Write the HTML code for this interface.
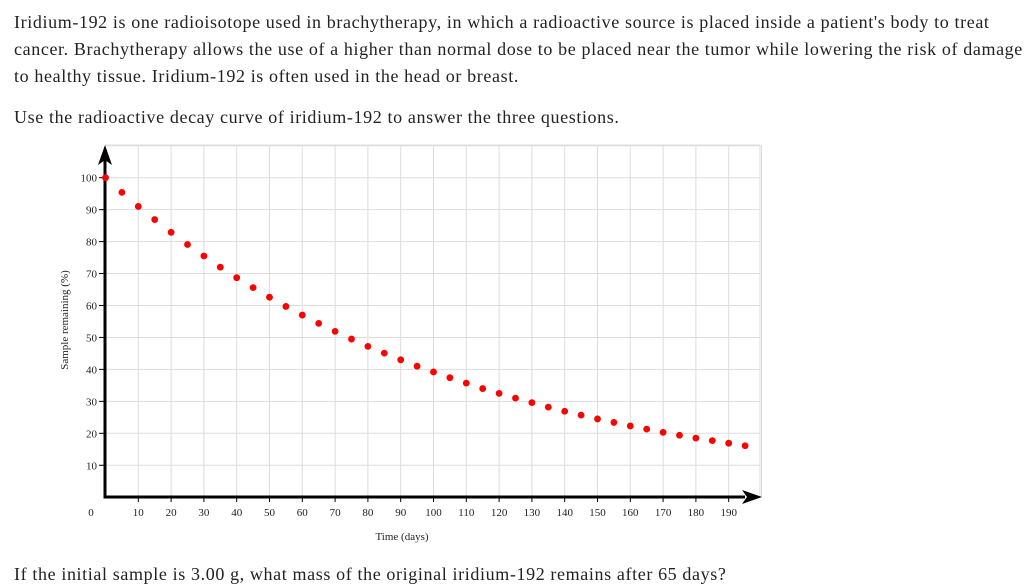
<!DOCTYPE html>
<html><head><meta charset="utf-8"><style>
body{margin:0;background:#fff;width:1024px;height:585px;overflow:hidden;font-family:"Liberation Serif",serif;color:#222}
.p{position:absolute;left:14px;font-size:18px;letter-spacing:0.62px;line-height:27px;margin:0;white-space:nowrap}
</style></head><body>
<p class="p" style="top:9px">Iridium-192 is one radioisotope used in brachytherapy, in which a radioactive source is placed inside a patient's body to treat<br>cancer. Brachytherapy allows the use of a higher than normal dose to be placed near the tumor while lowering the risk of damage<br>to healthy tissue. Iridium-192 is often used in the head or breast.</p>
<p class="p" style="top:104px">Use the radioactive decay curve of iridium-192 to answer the three questions.</p>
<svg id="chart" style="position:absolute;left:0;top:0" width="1024" height="585"></svg>
<p class="p" style="top:561px">If the initial sample is 3.00 g, what mass of the original iridium-192 remains after 65 days?</p>
<script>
const days=[0,5,10,15,20,25,30,35,40,45,50,55,60,65,70,75,80,85,90,95,100,105,110,115,120,125,130,135,140,145,150,155,160,165,170,175,180,185,190,195];
const remaining=[100,95.4,91,86.9,82.9,79.1,75.5,72,68.7,65.6,62.6,59.7,57,54.4,51.9,49.5,47.2,45.1,43,41,39.2,37.4,35.7,34,32.5,31,29.6,28.2,26.9,25.7,24.5,23.4,22.3,21.3,20.3,19.4,18.5,17.7,16.9,16.1];
const xTicks=[10,20,30,40,50,60,70,80,90,100,110,120,130,140,150,160,170,180,190];
const yTicks=[10,20,30,40,50,60,70,80,90,100];
const NS="http://www.w3.org/2000/svg",svg=document.getElementById('chart');
const X=v=>105.5+v*3.28, Y=v=>497.2-v*3.195;
function mk(t,a,p){const e=document.createElementNS(NS,t);for(const k in a)e.setAttribute(k,a[k]);(p||svg).appendChild(e);return e;}
const grid=mk('g',{});


for(let v=10;v<=200;v+=10)mk('line',{x1:X(v),x2:X(v),y1:145,y2:497,stroke:'#ddd','stroke-width':1},grid);
for(let v=10;v<=110;v+=10){const y=Y(v);if(y<145)continue;mk('line',{x1:105,x2:760,y1:y,y2:y,stroke:'#ddd','stroke-width':1},grid);}
mk('line',{x1:105,x2:760,y1:145,y2:145,stroke:'#ddd'},grid);
mk('line',{x1:760,x2:760,y1:145,y2:497,stroke:'#ddd'},grid);
xTicks.forEach(v=>{mk('line',{x1:X(v),x2:X(v),y1:497,y2:502,stroke:'#000'});
const t=mk('text',{x:X(v),y:516,'text-anchor':'middle','font-size':11,fill:'#222'});t.textContent=v;

});
yTicks.forEach(v=>{mk('line',{x1:99,x2:105,y1:Y(v),y2:Y(v),stroke:'#000'});
const t=mk('text',{x:97,y:Y(v)+4,'text-anchor':'end','font-size':11,fill:'#222'});t.textContent=v;

});
const z=mk('text',{x:91,y:516,'text-anchor':'middle','font-size':11,fill:'#222'});z.textContent='0';


const ax=mk('g',{});


mk('line',{x1:105,x2:105,y1:160,y2:498.5,stroke:'#000','stroke-width':3},ax);
mk('polygon',{points:'105,145 98,165 105,160 112,165',fill:'#000'},ax);
mk('line',{x1:103.5,x2:745,y1:497,y2:497,stroke:'#000','stroke-width':3},ax);
mk('polygon',{points:'762,497 742,490 747,497 742,504',fill:'#000'},ax);
const xl=mk('text',{x:402,y:540,'text-anchor':'middle','font-size':11,fill:'#222'});xl.textContent='Time (days)';


const yl=mk('text',{x:0,y:0,transform:'translate(68,320) rotate(-90)','text-anchor':'middle','font-size':11,fill:'#222'});yl.textContent='Sample remaining (%)';


days.forEach((d,i)=>{const c=mk('circle',{cx:X(d),cy:Y(remaining[i]),r:3.4,fill:'#f00'});

});
</script>
</body></html>
